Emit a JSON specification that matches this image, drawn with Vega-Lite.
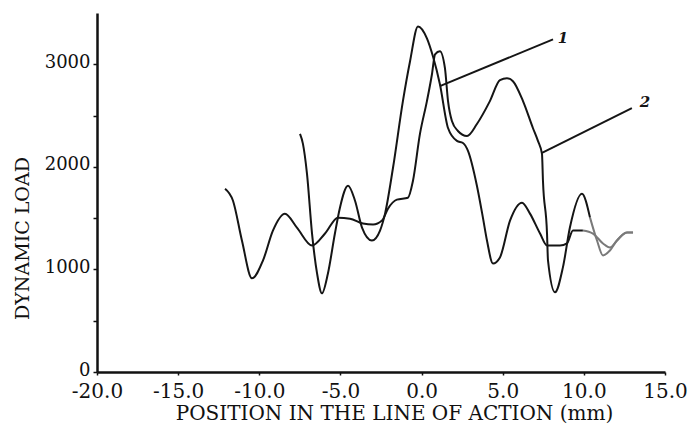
{
  "$schema": "https://vega.github.io/schema/vega-lite/v6.json",
  "width": 568,
  "height": 359,
  "autosize": "none",
  "padding": {"left": 97, "top": 13, "right": 25, "bottom": 68},
  "background": "white",
  "config": {
    "view": {"stroke": null},
    "font": "DejaVu Serif",
    "axis": {"grid": false, "domainColor": "#111", "tickColor": "#111", "labelColor": "#111", "titleColor": "#111", "labelFont": "DejaVu Serif", "titleFont": "DejaVu Serif", "titleFontWeight": "normal"}
  },
  "layer": [
    {
      "data": {"values": [
        {"s": "A1", "t": "dark", "x": -12.11, "y": 1787},
        {"s": "A1", "t": "dark", "x": -11.62, "y": 1670},
        {"s": "A1", "t": "dark", "x": -11.07, "y": 1282},
        {"s": "A1", "t": "dark", "x": -10.45, "y": 913},
        {"s": "A1", "t": "dark", "x": -9.77, "y": 1088},
        {"s": "A1", "t": "dark", "x": -9.16, "y": 1379},
        {"s": "A1", "t": "dark", "x": -8.42, "y": 1544},
        {"s": "A1", "t": "dark", "x": -7.68, "y": 1408},
        {"s": "A1", "t": "dark", "x": -6.75, "y": 1233},
        {"s": "A1", "t": "dark", "x": -5.95, "y": 1350},
        {"s": "A1", "t": "dark", "x": -5.15, "y": 1505},
        {"s": "A1", "t": "dark", "x": -4.41, "y": 1495},
        {"s": "A1", "t": "dark", "x": -3.61, "y": 1447},
        {"s": "A1", "t": "dark", "x": -2.99, "y": 1437},
        {"s": "A1", "t": "dark", "x": -2.44, "y": 1476},
        {"s": "A1", "t": "dark", "x": -2.07, "y": 1592},
        {"s": "A1", "t": "dark", "x": -1.52, "y": 1680},
        {"s": "A1", "t": "dark", "x": -0.84, "y": 1699},
        {"s": "A1", "t": "dark", "x": -0.53, "y": 1864},
        {"s": "A1", "t": "dark", "x": -0.10, "y": 2321},
        {"s": "A1", "t": "dark", "x": 0.33, "y": 2641},
        {"s": "A1", "t": "dark", "x": 0.64, "y": 2903},
        {"s": "A1", "t": "dark", "x": 0.83, "y": 3097},
        {"s": "A1", "t": "dark", "x": 1.13, "y": 3127},
        {"s": "A1", "t": "dark", "x": 1.44, "y": 2962},
        {"s": "A1", "t": "dark", "x": 1.63, "y": 2641},
        {"s": "A1", "t": "dark", "x": 1.87, "y": 2447},
        {"s": "A1", "t": "dark", "x": 2.24, "y": 2350},
        {"s": "A1", "t": "dark", "x": 2.80, "y": 2301},
        {"s": "A1", "t": "dark", "x": 3.41, "y": 2418},
        {"s": "A1", "t": "dark", "x": 4.21, "y": 2641},
        {"s": "A1", "t": "dark", "x": 4.83, "y": 2845},
        {"s": "A1", "t": "dark", "x": 5.26, "y": 2864},
        {"s": "A1", "t": "dark", "x": 5.63, "y": 2835},
        {"s": "A1", "t": "dark", "x": 6.25, "y": 2641},
        {"s": "A1", "t": "dark", "x": 6.86, "y": 2379},
        {"s": "A1", "t": "dark", "x": 7.17, "y": 2253},
        {"s": "A1", "t": "dark", "x": 7.42, "y": 2126},
        {"s": "A1", "t": "dark", "x": 7.48, "y": 1864},
        {"s": "A1", "t": "dark", "x": 7.73, "y": 1350},
        {"s": "A1", "t": "dark", "x": 7.79, "y": 1088},
        {"s": "A1", "t": "dark", "x": 8.22, "y": 777},
        {"s": "A1", "t": "dark", "x": 8.71, "y": 1020},
        {"s": "A1", "t": "dark", "x": 9.14, "y": 1408},
        {"s": "A1", "t": "dark", "x": 9.88, "y": 1738},
        {"s": "A1", "t": "dark", "x": 10.38, "y": 1505},
        {"s": "A2", "t": "grey", "x": 10.38, "y": 1505},
        {"s": "A2", "t": "grey", "x": 10.81, "y": 1282},
        {"s": "A2", "t": "grey", "x": 11.18, "y": 1136},
        {"s": "A2", "t": "grey", "x": 11.61, "y": 1185},
        {"s": "A2", "t": "grey", "x": 12.04, "y": 1282},
        {"s": "A2", "t": "grey", "x": 12.66, "y": 1359},
        {"s": "A2", "t": "grey", "x": 13.03, "y": 1359},
        {"s": "B1", "t": "dark", "x": -7.49, "y": 2321},
        {"s": "B1", "t": "dark", "x": -7.31, "y": 2224},
        {"s": "B1", "t": "dark", "x": -7.06, "y": 1932},
        {"s": "B1", "t": "dark", "x": -6.75, "y": 1350},
        {"s": "B1", "t": "dark", "x": -6.44, "y": 961},
        {"s": "B1", "t": "dark", "x": -6.14, "y": 767},
        {"s": "B1", "t": "dark", "x": -5.77, "y": 961},
        {"s": "B1", "t": "dark", "x": -5.34, "y": 1350},
        {"s": "B1", "t": "dark", "x": -5.03, "y": 1602},
        {"s": "B1", "t": "dark", "x": -4.53, "y": 1816},
        {"s": "B1", "t": "dark", "x": -4.10, "y": 1670},
        {"s": "B1", "t": "dark", "x": -3.67, "y": 1408},
        {"s": "B1", "t": "dark", "x": -3.06, "y": 1282},
        {"s": "B1", "t": "dark", "x": -2.56, "y": 1379},
        {"s": "B1", "t": "dark", "x": -2.25, "y": 1544},
        {"s": "B1", "t": "dark", "x": -1.76, "y": 1991},
        {"s": "B1", "t": "dark", "x": -1.15, "y": 2641},
        {"s": "B1", "t": "dark", "x": -0.71, "y": 3030},
        {"s": "B1", "t": "dark", "x": -0.22, "y": 3369},
        {"s": "B1", "t": "dark", "x": 0.33, "y": 3253},
        {"s": "B1", "t": "dark", "x": 0.70, "y": 3078},
        {"s": "B1", "t": "dark", "x": 1.13, "y": 2806},
        {"s": "B1", "t": "dark", "x": 1.63, "y": 2379},
        {"s": "B1", "t": "dark", "x": 2.18, "y": 2253},
        {"s": "B1", "t": "dark", "x": 2.55, "y": 2233},
        {"s": "B1", "t": "dark", "x": 2.86, "y": 2156},
        {"s": "B1", "t": "dark", "x": 3.41, "y": 1816},
        {"s": "B1", "t": "dark", "x": 3.78, "y": 1505},
        {"s": "B1", "t": "dark", "x": 4.03, "y": 1282},
        {"s": "B1", "t": "dark", "x": 4.40, "y": 1058},
        {"s": "B1", "t": "dark", "x": 4.83, "y": 1117},
        {"s": "B1", "t": "dark", "x": 5.45, "y": 1476},
        {"s": "B1", "t": "dark", "x": 6.19, "y": 1651},
        {"s": "B1", "t": "dark", "x": 6.68, "y": 1544},
        {"s": "B1", "t": "dark", "x": 7.30, "y": 1350},
        {"s": "B1", "t": "dark", "x": 7.73, "y": 1233},
        {"s": "B1", "t": "dark", "x": 8.53, "y": 1233},
        {"s": "B1", "t": "dark", "x": 8.96, "y": 1253},
        {"s": "B1", "t": "dark", "x": 9.33, "y": 1379},
        {"s": "B1", "t": "dark", "x": 9.94, "y": 1379},
        {"s": "B2", "t": "grey", "x": 9.94, "y": 1379},
        {"s": "B2", "t": "grey", "x": 10.56, "y": 1350},
        {"s": "B2", "t": "grey", "x": 11.18, "y": 1253},
        {"s": "B2", "t": "grey", "x": 11.61, "y": 1214},
        {"s": "B2", "t": "grey", "x": 12.04, "y": 1282},
        {"s": "B2", "t": "grey", "x": 12.66, "y": 1359},
        {"s": "B2", "t": "grey", "x": 13.03, "y": 1359}
      ]},
      "mark": {"type": "line", "strokeWidth": 2, "interpolate": "monotone"},
      "encoding": {
        "x": {
          "field": "x", "type": "quantitative",
          "scale": {"domain": [-20, 15], "nice": false, "zero": false},
          "axis": {
            "values": [-20, -15, -10, -5, 0, 5, 10, 15],
            "labelExpr": "datum.value < 0 ? '-' + format(-datum.value, '.1f') : format(datum.value, '.1f')",
            "labelFontSize": 20, "tickSize": 3, "labelPadding": 6, "domainWidth": 2.5, "tickWidth": 1.5, "labelFlush": false,
            "title": "POSITION IN THE LINE OF ACTION (mm)", "titleFontSize": 20,
            "titleX": 297, "titleY": 41, "titleAlign": "center", "titleBaseline": "middle", "titleAnchor": null
          }
        },
        "y": {
          "field": "y", "type": "quantitative",
          "scale": {"domain": [0, 3500], "nice": false, "zero": true},
          "axis": {
            "values": [0, 500, 1000, 1500, 2000, 2500, 3000],
            "labelExpr": "datum.value % 1000 == 0 ? format(datum.value, 'd') : ''",
            "labelFontSize": 18, "tickSize": 4, "labelPadding": 3, "labelOffset": -2, "domainWidth": 2.5, "tickWidth": 1.5, "labelFlush": false,
            "title": "DYNAMIC LOAD", "titleFontSize": 19,
            "titleX": -75, "titleY": 225, "titleAngle": -90, "titleAlign": "center", "titleBaseline": "middle", "titleAnchor": null
          }
        },
        "detail": {"field": "s"},
        "color": {"field": "t", "type": "nominal", "scale": {"domain": ["dark", "grey"], "range": ["#151515", "#7a7a7a"]}, "legend": null}
      }
    },
    {
      "data": {"values": [
        {"x": 1.13, "y": 2787, "x2": 8.10, "y2": 3243},
        {"x": 7.42, "y": 2136, "x2": 12.96, "y2": 2573}
      ]},
      "mark": {"type": "rule", "strokeWidth": 2, "color": "#151515"},
      "encoding": {
        "x": {"field": "x", "type": "quantitative"},
        "y": {"field": "y", "type": "quantitative"},
        "x2": {"field": "x2"},
        "y2": {"field": "y2"}
      }
    },
    {
      "data": {"values": [
        {"x": 8.71, "y": 3253, "label": "1"},
        {"x": 13.76, "y": 2631, "label": "2"}
      ]},
      "mark": {"type": "text", "fontSize": 15, "fontStyle": "italic", "fontWeight": "bold", "font": "DejaVu Serif", "color": "#151515", "align": "center", "baseline": "middle"},
      "encoding": {
        "x": {"field": "x", "type": "quantitative"},
        "y": {"field": "y", "type": "quantitative"},
        "text": {"field": "label"}
      }
    }
  ]
}
